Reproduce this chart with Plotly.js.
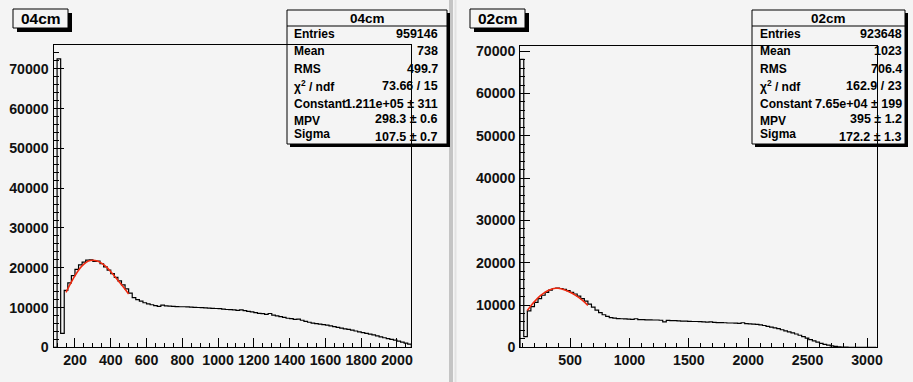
<!DOCTYPE html>
<html><head><meta charset="utf-8">
<script src="https://cdn.plot.ly/plotly-3.0.1.min.js"></script>
<style>html,body{margin:0;padding:0;background:#f4f4f4;}#chart{width:913px;height:382px;}</style>
</head><body><div id="chart"></div>
<script>
// ---------------- data ----------------
const leftTitle = "04cm";
const rightTitle = "02cm";
const leftBinStart = 80, leftBinWidth = 20;
const leftCounts = [
0,72500,3500,14300,16200,18000,19600,20700,21400,21900,
22000,21600,21700,21000,20200,19400,18500,17600,16700,15700,
14700,13600,12500,12000,11600,11200,10900,10700,10500,10300,
10600,10400,10350,10300,10250,10200,10200,10150,10100,10050,
10000,9950,9900,9850,9800,9750,9700,9600,9500,9450,
9400,9300,9400,9200,9050,8900,8700,8550,8450,8300,
8500,8100,7900,7700,7500,7300,7200,7000,7100,6800,
6500,6300,6100,5950,5850,5700,5600,5400,5200,5000,
4800,4650,4500,4300,4100,3900,3700,3500,3300,3100,
2850,2600,2400,2200,2000,1800,1550,1300,1050,800];
const rightBinStart = 80, rightBinWidth = 30;
const rightCounts = [
68100,2500,8600,9600,10600,11500,12300,13000,13500,13900,
14000,13900,13700,13400,13000,12600,12100,11500,10900,10200,
9500,8800,8200,7700,7300,7000,6900,6800,6750,6700,
6650,6600,6750,6550,6550,6500,6500,6450,6450,6400,
6000,6350,6300,6300,6250,6200,6200,6150,6100,6100,
6050,6000,5950,6000,5900,5850,5850,5800,5750,5750,
5700,5650,5800,5600,5550,5500,5400,5300,5150,4950,
4750,4600,4400,4150,3900,3650,3400,3150,2850,2500,
2150,1800,1500,1200,950,700,500,330,200,120,
60,30,10,0,0,0,0,0,0,0];
const leftFitX = [150,175,200,225,250,275,300,325,350,375,400,425,450,475,500];
const leftFitY = [13800,16000,18000,19700,20900,21700,21900,21700,21100,20200,19000,17700,16300,14900,13400];
const rightFitX = [140,170,200,250,300,350,380,400,450,500,550,600,650];
const rightFitY = [8700,9800,10800,12200,13200,13800,13950,13950,13600,13000,12200,11200,9900];
const leftXTicks = [200,400,600,800,1000,1200,1400,1600,1800,2000];
const rightXTicks = [500,1000,1500,2000,2500,3000];
const yTicks = [0,10000,20000,30000,40000,50000,60000,70000];
const statLabels = ["Entries","Mean","RMS","χ<sup>2</sup> / ndf","Constant","MPV","Sigma"];
const leftStatValues = ["959146","738","499.7","73.66 / 15","1.211e+05 ± 311","298.3 ± 0.6","107.5 ± 0.7"];
const rightStatValues = ["923648","1023","706.4","162.9 / 23","7.65e+04 ± 199","395 ± 1.2","172.2 ± 1.3"];

// ---------------- helpers ----------------
const W = 913, H = 382;
const FONT = "Liberation Sans, Arial, Helvetica, sans-serif";
const px = v => v / W, py = v => 1 - v / H;
function steps(start, width, counts) {
  const x = [start], y = [0];
  counts.forEach((c, i) => { x.push(start + i * width); y.push(c); });
  const end = start + counts.length * width;
  x.push(end); y.push(counts[counts.length - 1]);
  x.push(end); y.push(0);
  return {x, y};
}
const L = steps(leftBinStart, leftBinWidth, leftCounts);
const R = steps(rightBinStart, rightBinWidth, rightCounts);

const traces = [
  {x: L.x, y: L.y, xaxis: 'x', yaxis: 'y', type: 'scatter', mode: 'lines', line: {shape: 'hv', color: '#000', width: 1.2}, hoverinfo: 'skip'},
  {x: leftFitX, y: leftFitY, xaxis: 'x', yaxis: 'y', type: 'scatter', mode: 'lines', line: {shape: 'spline', color: '#f02a10', width: 1.6}, hoverinfo: 'skip'},
  {x: R.x, y: R.y, xaxis: 'x2', yaxis: 'y2', type: 'scatter', mode: 'lines', line: {shape: 'hv', color: '#000', width: 1.2}, hoverinfo: 'skip'},
  {x: rightFitX, y: rightFitY, xaxis: 'x2', yaxis: 'y2', type: 'scatter', mode: 'lines', line: {shape: 'spline', color: '#f02a10', width: 1.6}, hoverinfo: 'skip'}
];

const tickFont = {family: FONT, size: 14.2, color: '#111', weight: 'bold'};
const bold = v => '<b>' + v + '</b>';
function xAxis(dom, range, vals, minorStep, anchor) {
  return {domain: dom, range: range, anchor: anchor, tickmode: 'array', tickvals: vals, ticktext: vals.map(bold),
    ticks: 'inside', ticklen: 9, tickwidth: 1, tickcolor: '#000',
    minor: {tickmode: 'linear', tick0: 0, dtick: minorStep, ticks: 'inside', ticklen: 4.5, tickwidth: 1, tickcolor: '#000', showgrid: false},
    showline: true, linecolor: '#000', linewidth: 1, mirror: true, showgrid: false, zeroline: false,
    tickfont: tickFont, fixedrange: true};
}
function yAxis(dom, range, anchor) {
  return {domain: dom, range: range, anchor: anchor, tickmode: 'array', tickvals: yTicks, ticktext: yTicks.map(bold),
    ticks: 'inside', ticklen: 10, tickwidth: 1, tickcolor: '#000',
    minor: {tickmode: 'linear', tick0: 0, dtick: 2000, ticks: 'inside', ticklen: 5, tickwidth: 1, tickcolor: '#000', showgrid: false},
    showline: true, linecolor: '#000', linewidth: 1, mirror: true, showgrid: false, zeroline: false,
    tickfont: tickFont, ticklabelstandoff: 1, fixedrange: true};
}

const shapes = [];
const annotations = [];
function rect(x0, y0, x1, y1, fill, lineColor, lw) {
  shapes.push({type: 'rect', xref: 'paper', yref: 'paper', x0: px(x0), x1: px(x1), y0: py(y1), y1: py(y0),
    fillcolor: fill, line: {color: lineColor || 'rgba(0,0,0,0)', width: lw || 0}, layer: 'above'});
}
function hline(x0, x1, y, color, w) {
  shapes.push({type: 'line', xref: 'paper', yref: 'paper', x0: px(x0), x1: px(x1), y0: py(y), y1: py(y), line: {color: color, width: w}, layer: 'above'});
}
function text(t, x, y, anchor, size) {
  annotations.push({text: '<b>' + t + '</b>', xref: 'paper', yref: 'paper', x: px(x), y: py(y), xanchor: anchor, yanchor: 'middle',
    showarrow: false, borderpad: 0, font: {family: FONT, size: size, color: '#000', weight: 'bold'}});
}

// pad separator
shapes.push({type: 'rect', xref: 'paper', yref: 'paper', x0: px(449), x1: px(453), y0: 0, y1: 1, fillcolor: '#c4c4c4', line: {width: 0}, layer: 'below'});
shapes.push({type: 'rect', xref: 'paper', yref: 'paper', x0: px(454.5), x1: px(456.5), y0: 0, y1: 1, fillcolor: '#e2e2e2', line: {width: 0}, layer: 'below'});

// title boxes
function titleBox(x0, label) {
  rect(x0 + 4, 28, x0 + 59, 32, '#000');
  rect(x0 + 55, 13, x0 + 59, 32, '#000');
  rect(x0, 9, x0 + 55, 28, '#f4f4f4', '#000', 1);
  text(label, x0 + 27.5, 18.5, 'center', 15.5);
}
titleBox(13, leftTitle);
titleBox(470, rightTitle);

// stats boxes
function statsBox(x0, x1, title, values, labelX, valueX) {
  const top = 10, bottom = 144;
  rect(x1, top + 3, x1 + 3, bottom + 3, '#000');
  rect(x0 + 3, bottom, x1 + 3, bottom + 3, '#000');
  rect(x0, top, x1, bottom, 'rgba(0,0,0,0)', '#000', 1);
  hline(x0, x1, 26, '#000', 1);
  text(title, (x0 + x1) / 2, 18.5, 'center', 13.5);
  const ly = [33.5, 51, 69, 86, 104, 121, 134];
  const vy = [33.5, 51, 69, 86, 104, 119, 137];
  statLabels.forEach((s, i) => {
    text(s, labelX, ly[i], 'left', 12);
    text(values[i], valueX, vy[i], 'right', 12.5);
  });
}
statsBox(287, 447, leftTitle, leftStatValues, 293, 439);
statsBox(752, 905, rightTitle, rightStatValues, 759, 903);

const layout = {
  width: W, height: H, margin: {l: 0, r: 0, t: 0, b: 0},
  paper_bgcolor: '#f4f4f4', plot_bgcolor: '#f4f4f4', showlegend: false,
  xaxis: xAxis([px(53.5), px(411.3)], [80, 2080], leftXTicks, 50, 'y'),
  yaxis: yAxis([py(347.3), py(45)], [0, 76000], 'x'),
  xaxis2: xAxis([px(520.2), px(876.5)], [80, 3080], rightXTicks, 100, 'y2'),
  yaxis2: yAxis([py(347.3), py(45.7)], [0, 71300], 'x2'),
  shapes: shapes, annotations: annotations
};
Plotly.newPlot('chart', traces, layout, {displayModeBar: false, staticPlot: true});
</script></body></html>
